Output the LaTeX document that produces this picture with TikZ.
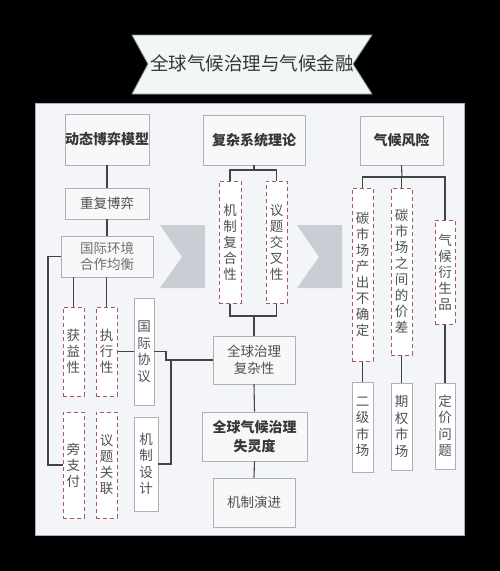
\documentclass[tikz,border=0pt]{standalone}
\usepackage{fontspec}
\newfontfamily\cjk{Noto Sans CJK SC}
\usetikzlibrary{calc}
\definecolor{panelfill}{HTML}{F4F5F9}
\definecolor{panelline}{HTML}{A8B0BC}
\definecolor{boxfill}{HTML}{F8F8F9}
\definecolor{boxline}{HTML}{A9B1BE}
\definecolor{dashline}{HTML}{A25868}
\definecolor{conn}{HTML}{444444}
\definecolor{chev}{HTML}{C9CED5}
\definecolor{bannerfill}{HTML}{F3F6F6}
\definecolor{bannerline}{HTML}{8A9A9A}
\definecolor{txt}{HTML}{505050}
\definecolor{lighttxt}{HTML}{707070}
\definecolor{headtxt}{HTML}{363636}
\tikzset{
  sbox/.style={draw=boxline, line width=0.9pt, fill=boxfill, inner sep=0pt, align=center,
    text=txt, font=\cjk\fontsize{13.5}{16.5}\selectfont},
  headbox/.style={sbox, text=headtxt, font=\cjk\bfseries\fontsize{14}{17}\selectfont},
  dbox/.style={draw=dashline, line width=1pt, dash pattern=on 4pt off 3pt, fill=white,
    inner sep=0pt, align=center, text=txt, font=\cjk\fontsize{13.5}{16}\selectfont},
  vbox/.style={sbox, fill=white, font=\cjk\fontsize{13.5}{16.5}\selectfont},
  link/.style={draw=conn, line width=1.1pt},
}
\begin{document}
\begin{tikzpicture}[x=1pt,y=-1pt]
\useasboundingbox (0,0) rectangle (500,571);
\fill[black] (0,0) rectangle (500,571);
% banner
\filldraw[fill=bannerfill, draw=bannerline, line width=0.8pt]
  (132,35) -- (372,35) -- (353,64) -- (372,94) -- (132,94) -- (148,64) -- cycle;
\node[text=headtxt, font=\cjk\fontsize{18.5}{20}\selectfont, inner sep=0pt] (title) at (252,63) {全球气候治理与气候金融};
% panel
\filldraw[fill=panelfill, draw=panelline, line width=0.8pt] (35,103) rectangle (464,535);
% chevrons
\fill[chev] (160,225) -- (205,225) -- (205,288) -- (160,288) -- (182,257) -- cycle;
\fill[chev] (297,225) -- (342,225) -- (342,288) -- (297,288) -- (319,257) -- cycle;
% headers
\node[headbox, minimum width=84, minimum height=51] (h1) at (107,139.5) {动态博弈模型};
\node[headbox, minimum width=102, minimum height=50] (h2) at (254,140) {复杂系统理论};
\node[headbox, minimum width=83, minimum height=49] (h3) at (401.5,140.5) {气候风险};
% left column
\node[sbox, minimum width=84, minimum height=31] (cfb) at (107,203.5) {重复博弈};
\node[sbox, text=lighttxt, minimum width=92, minimum height=41] (eq) at (107,256.5) {国际环境\\合作均衡};
\node[dbox, minimum width=21, minimum height=89] (gy) at (73.5,351.5) {获\\益\\性};
\node[dbox, minimum width=21, minimum height=89] (zx) at (106.5,351.5) {执\\行\\性};
\node[vbox, minimum width=20, minimum height=107] (xy) at (144,351.5) {国\\际\\协\\议};
\node[dbox, minimum width=21, minimum height=106] (pz) at (73.5,465) {旁\\支\\付};
\node[dbox, minimum width=21, minimum height=106] (yt) at (106.5,465) {议\\题\\关\\联};
\node[vbox, minimum width=24, minimum height=94] (jz) at (146,464) {机\\制\\设\\计};
% middle column
\node[dbox, minimum width=22, minimum height=122] (fh) at (230,242) {机\\制\\复\\合\\性};
\node[dbox, minimum width=21, minimum height=122] (jc) at (276.5,242) {议\\题\\交\\叉\\性};
\node[sbox, minimum width=82, minimum height=48] (fz) at (254,360) {全球治理\\复杂性};
\node[headbox, font=\cjk\bfseries\fontsize{14}{19}\selectfont, minimum width=105, minimum height=49] (sl) at (254.5,436.5) {全球气候治理\\失灵度};
\node[sbox, minimum width=82, minimum height=49] (yj) at (254,502.5) {机制演进};
% right column
\node[dbox, minimum width=21, minimum height=173] (r1) at (362.5,274.5) {碳\\市\\场\\产\\出\\不\\确\\定};
\node[dbox, minimum width=21, minimum height=167] (r2) at (401.5,271.5) {碳\\市\\场\\之\\间\\的\\价\\差};
\node[dbox, minimum width=20, minimum height=104] (r3) at (445,272) {气\\候\\衍\\生\\品};
\node[vbox, minimum width=21, minimum height=90] (m1) at (362.5,427) {二\\级\\市\\场};
\node[vbox, minimum width=21, minimum height=87] (m2) at (401.5,426.5) {期\\权\\市\\场};
\node[vbox, minimum width=20, minimum height=86] (m3) at (445,426) {定\\价\\问\\题};
% helper coordinates
\coordinate (lx) at (48,0);
\coordinate (j0) at (166,351.5);
\coordinate (j1) at (171,360);
\coordinate (t2) at (254,170);
\coordinate (b2) at (254,316);
\coordinate (t3) at (402,177);
% connectors left
\draw[link] (h1.south) -- (cfb.north);
\draw[link] (cfb.south) -- (eq.north);
\draw[link] (eq.west) -| (lx |- pz.west) -- (pz.west);
\draw[link] (gy.north) -- (gy.north |- eq.south);
\draw[link] (zx.north) -- (zx.north |- eq.south);
\draw[link] (zx.east) -- (xy.west);
\draw[link] (xy.east) -- (j0) -- (j0 |- fz.west) -- (fz.west);
\draw[link] (jz.east) -| (j1);
% connectors middle
\draw[link] (h2.south) -- (t2);
\draw[link] (fh.north) |- (t2) -| (jc.north);
\draw[link] (fh.south) |- (b2) -| (jc.south);
\draw[link] (b2) -- (fz.north);
\draw[link] (fz.south) -- (sl.north);
\draw[link] (sl.south) -- (yj.north);
% connectors right
\draw[link] (h3.south) -- (t3);
\draw[link] (r1.north) |- (t3) -| (r3.north);
\draw[link] (r2.north) -- (r2.north |- t3);
\draw[link] (r1.south) -- (m1.north);
\draw[link] (r2.south) -- (m2.north);
\draw[link] (r3.south) -- (m3.north);
\end{tikzpicture}
\end{document}
